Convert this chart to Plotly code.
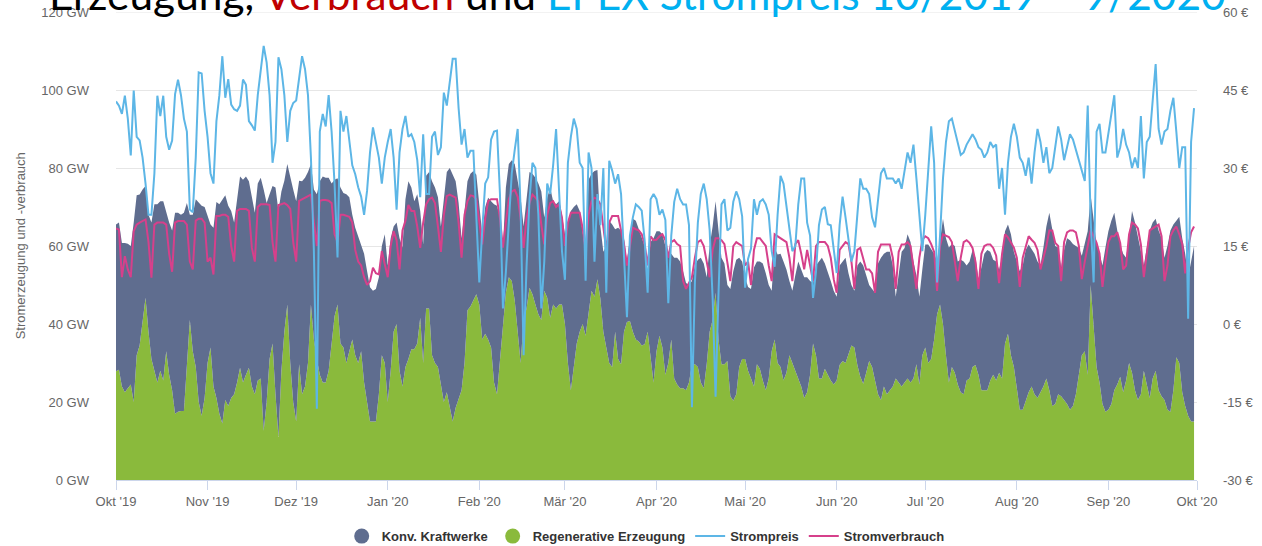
import pandas as pd
import plotly.graph_objects as go

# ---------------- data (daily values, 1 Oct 2019 - 30 Sep 2020) ----------------
start_date = "2019-10-01"

# Regenerative Erzeugung (GW)
regenerativ = [
    27.9, 28.3, 24, 22.5, 23.5, 24.5, 20, 32, 34.5, 40,
    46.7, 38, 31, 28, 25, 28, 25.5, 33, 27, 23,
    17, 17.5, 17.7, 17.7, 30, 41, 33, 29, 20, 16.5,
    21, 30, 34, 24, 21, 17, 14.5, 20.5, 19, 21,
    22, 25, 28.8, 25, 27, 28.8, 24, 22, 25.5, 26,
    12.6, 20, 31, 35, 22, 11, 28, 38, 45, 30,
    20, 15, 29.7, 22, 24, 30, 45, 36, 31, 27,
    25, 25, 28, 36, 42, 45, 35, 34, 30, 33,
    36, 32, 30, 33, 25, 20, 15, 15, 15, 22,
    32, 30, 20, 28, 38, 40, 28, 24, 29, 31,
    33.5, 33.5, 35, 41.6, 30, 44, 44, 32, 30, 29,
    25, 20, 22.5, 19, 15, 18.5, 20.5, 23, 30, 43.5,
    44.5, 46, 47.6, 45, 36, 37.5, 36, 34, 25, 22,
    30, 40, 48, 52, 51, 46, 38.5, 30, 40.8, 44,
    49.3, 47.6, 45, 42.5, 41, 48.5, 46.7, 41.6, 45, 44,
    45, 45, 40, 30, 23, 29, 35, 38, 40, 37,
    42.5, 48.5, 47, 51.5, 46.5, 38, 34, 30, 29, 38,
    31, 29.7, 38, 40.5, 40.8, 38, 36, 35.5, 34.5, 34.8,
    38, 31, 25, 33, 37, 34, 27, 30, 36, 26,
    24.5, 23.5, 23.5, 23, 25, 29.7, 29.7, 29, 25, 23.5,
    29.7, 38, 41, 48, 36, 29.7, 29.7, 30.5, 21.5, 20.3,
    22, 29, 31, 31, 28, 26, 24, 29.7, 28.5, 25.5,
    23, 26, 33, 36, 30, 29, 25.5, 27.5, 32, 30,
    28, 26, 24, 21, 22.5, 27, 35, 32, 26, 26,
    28.5, 27, 25.5, 24.5, 25.5, 29.5, 30.5, 30, 32, 34.5,
    34, 29.5, 26.5, 24.7, 27.5, 30.5, 29, 25.5, 22, 20.5,
    24, 22, 23, 24, 26, 25, 24, 25, 26, 25,
    26, 29.7, 24.5, 32, 34, 30, 31, 36, 42.5, 45,
    40, 32, 25, 29, 27.5, 24.5, 22.5, 22, 25.5, 26,
    29, 29.5, 27, 23, 23, 23, 25.5, 27, 25.5, 27.5,
    26, 35, 37.5, 32, 29, 23.5, 18, 18, 20.5, 22.5,
    24, 22, 21, 22.5, 24, 26, 23, 19, 19.5, 22,
    21.5, 20.5, 19.5, 18, 19, 22, 27, 32, 33, 27,
    50, 38, 29, 25, 19.5, 17.5, 18, 19.5, 23, 24.5,
    26.5, 22.5, 25.5, 30, 27.5, 23, 20.5, 22, 28, 24.5,
    21, 26, 28, 23, 21.5, 20.5, 18, 17.5, 23, 31.5,
    30, 22.5, 19, 16.5, 15, 15,
]

# Gesamterzeugung = Regenerative + Konv. Kraftwerke (GW), upper edge of the stack
erzeugung_gesamt = [
    65.5, 66, 60.8, 60.8, 60.6, 60, 66, 73, 73.2, 74.5,
    75.4, 68, 66, 70.7, 70.7, 71.5, 71.5, 68.5, 66, 64,
    68.5, 68.5, 68, 68.5, 71, 68, 68, 72, 71, 70.3,
    70, 67.5, 65.5, 64.7, 71.3, 70.7, 72, 73, 70.3, 69,
    66, 71.3, 77.8, 77, 77.8, 76.6, 72.5, 68.5, 76, 77.5,
    74.5, 71, 73.3, 75.4, 75, 69, 74, 76.7, 81, 77.5,
    74.5, 71.5, 76.7, 76.6, 77.5, 79, 81, 74.5, 73.3, 76.6,
    77.8, 77.5, 77.5, 76, 77, 77.4, 75, 73.6, 73.3, 72.5,
    68, 64.7, 62.4, 60.5, 58, 53.6, 49.4, 48.5, 49, 52,
    60, 63, 55, 62, 65, 66, 62, 59.6, 72, 76.6,
    75, 71.5, 73.3, 69, 60.4, 78, 79, 76.6, 75, 72.5,
    65, 72, 79, 80, 78.5, 76.6, 71, 62, 69, 76.6,
    78.5, 79.2, 78.3, 71, 63, 70, 72.4, 71.5, 70.7, 70.3,
    67.3, 59.6, 75, 81, 82, 81, 76.6, 72.4, 65, 72,
    79, 78.5, 77.5, 76, 74, 67.3, 72.4, 75, 71.5, 70.7,
    71.5, 68, 63, 66, 69, 70, 70.7, 69, 64, 58,
    77, 78.5, 79.2, 79.5, 65, 58.5, 60, 66.5, 65.5, 64.3,
    64.7, 64, 62, 56, 62, 67, 66.5, 64.5, 62, 60,
    53.6, 61, 62, 63.8, 63.8, 63, 60, 58, 58, 57,
    57, 56, 53.5, 50.5, 50, 51, 55, 56.5, 57, 55.5,
    52, 60, 65, 71.5, 64, 57, 55.5, 50, 49, 53.5,
    56.5, 57, 56, 52, 49.5, 49, 54.5, 56, 56, 55.5,
    53, 50, 48.5, 59.6, 57.8, 58, 56, 54, 51, 48.5,
    52.5, 56, 54, 52, 52, 51, 50.5, 55, 56, 57,
    55.5, 53.5, 51, 48.5, 47, 55, 56, 57, 53, 50,
    48.5, 55, 56, 55, 52.5, 50, 49, 48, 55.5, 57,
    58, 58.5, 58.5, 55, 47, 53.5, 58.5, 59.5, 63, 61,
    56, 52.5, 47, 54, 60.4, 60.4, 59, 58, 56, 61,
    67, 62, 59.6, 60.5, 60, 56, 56.5, 56, 55, 56,
    59, 57, 51.5, 54.5, 58, 59, 58.5, 56.5, 56, 54,
    57, 63.8, 65.5, 63, 58.5, 56, 53.5, 55, 59, 60.4,
    59, 58, 56, 55, 59.6, 65, 68.5, 63.8, 60, 59.6,
    54.5, 59, 62, 61.5, 60.5, 60, 59.5, 57.5, 60.4, 63.8,
    73, 67, 60.4, 58, 55, 59.6, 63.8, 66.5, 68.5, 64,
    60.4, 58, 57, 62.5, 69, 66, 62, 59, 55, 59.6,
    64, 66, 67, 64, 62, 57, 60, 64, 65.5, 66.5,
    67.5, 62, 58, 52, 56, 60,
]

# Stromverbrauch (GW)
verbrauch = [
    64.5, 64.2, 52, 57.4, 54, 52, 63.8, 65.5, 66, 66.4,
    66.8, 61, 51.9, 65.5, 66, 66, 66, 65.5, 58, 53.4,
    66, 66.4, 66.4, 66.4, 65.5, 56, 54, 66.5, 67, 67,
    66, 56, 57, 52.7, 67.7, 67.7, 68, 68, 67.5, 60,
    56, 69, 69.5, 69.5, 69.5, 69, 59.5, 56, 70, 70.7,
    70.7, 70.7, 70.5, 61, 56, 70.5, 70.7, 71, 70.5, 69.5,
    61, 56, 71.6, 72, 72.5, 73, 73.2, 66, 60, 71.6,
    71.8, 71.8, 71.6, 71, 63, 61, 68, 68, 67.7, 67.5,
    66, 59, 56, 55, 52, 50, 51, 54.4, 53, 52.7,
    58.7, 55, 52, 60, 63.8, 61.5, 54, 64, 66.5, 70.5,
    69, 69, 65, 59.5, 66, 70.7, 72, 72.4, 71, 65,
    58.5, 68, 72.8, 73.2, 72.8, 72.4, 66, 57, 68, 71.5,
    73, 72.8, 72, 66, 60.4, 67, 71.5, 72, 72, 72,
    67, 59.6, 66, 72, 74, 74.4, 72.6, 67, 59.5, 67,
    71, 73.2, 72.4, 71.5, 65.5, 60.4, 68, 71, 71.5, 70,
    70.7, 67.2, 60, 66, 68.5, 68.5, 68.5, 68.5, 64.5, 59,
    68, 71.5, 72.4, 72, 70.7, 65, 59, 66, 67.7, 67.7,
    67.7, 64, 60.5, 55, 60, 64.7, 64.3, 64, 63, 60.4,
    55, 62.5, 61.5, 61.6, 62.5, 63, 61.5, 57, 61, 61.5,
    60.5, 60, 51, 49, 50.5, 52, 57, 61, 61.5, 60,
    56, 52, 59, 62, 62, 61.5, 60.5, 56, 51, 60,
    61, 60.5, 60, 55, 56, 50, 59, 62, 62, 61,
    60, 55, 51, 63, 62.5, 62, 61.6, 61, 57, 51,
    60.5, 61.5, 58, 54, 59, 55, 51, 60, 61, 61,
    61, 60, 57, 51.5, 48, 59, 60, 61, 60.5, 56,
    49, 59, 59.5, 57, 54, 54, 53, 48, 58.5, 60.4,
    60.4, 60.4, 60.4, 57, 49, 58.5, 60.4, 60.4, 61, 60,
    55, 49, 57, 61.5, 62.5, 62, 60.5, 58.5, 48.5, 60,
    63, 62.6, 62.3, 61, 56.5, 51, 57, 61, 61.5, 60.8,
    59.5, 56, 49, 58, 60, 60.4, 60.4, 59.5, 57.5, 50.5,
    58, 63, 62.2, 60.8, 59.6, 57, 49.5, 57, 60, 62.5,
    61.6, 60.8, 59, 54, 57, 60, 64, 64, 60.8, 60,
    51, 61, 63.5, 64, 64, 63.5, 60, 51.5, 56, 60.5,
    64, 62.5, 60.8, 58, 49.5, 56, 61, 62.5, 62.5, 63.5,
    60.8, 54, 55, 63, 66, 65.5, 64.5, 60.4, 52, 58,
    64, 64.5, 65, 65.5, 62.5, 51, 55, 62.5, 64, 65,
    63, 60.5, 53, 59.5, 63.5, 65,
]

# EPEX Strompreis (EUR/MWh, right axis)
strompreis = [
    42.8, 42, 40.4, 43.9, 39.5, 32.4, 44.9, 36, 35.3, 32,
    27, 21, 21, 29, 43.9, 40, 43.9, 36, 33.5, 35.3,
    44.2, 47, 44, 39.5, 37, 22, 21.5, 32, 48.4, 48.2,
    41, 36, 29, 27, 39, 44, 51.5, 43.5, 47.1, 42.2,
    41.3, 41, 42, 47, 46, 39, 38.2, 37.2, 44, 49.4,
    53.5, 50.3, 44, 31, 35, 51.3, 49, 44, 35, 41,
    42.5, 43, 47, 51.5, 49, 44, 32, 14, -16.3, 37,
    40.4, 38, 44, 37, 27, 12.8, 41, 37, 40, 35,
    30.5, 28.8, 26.3, 24.5, 21, 25.6, 33, 37.8, 35, 32,
    27, 32, 35, 37.5, 32, 22, 33, 37.5, 40, 36,
    36.5, 35, 31.5, 24.4, 36.5, 25, 25, 36, 37, 32.5,
    34, 44.5, 42, 46.5, 51, 51, 41.5, 34.5, 37.5, 32,
    33.3, 33.3, 22, 8, 18, 27, 28.2, 35.5, 37, 37.2,
    25, 3, 10, 19, 29, 33.5, 37.5, 22, -6, 11,
    24, 31, 30, 21, 3, 12, 27, 25, 30.5, 37.5,
    27, 14, 8.5, 31, 36, 39.5, 37.5, 31, 30, 8.3,
    33, 30, 12, 25, 19, 30, 6, 31.4, 29.5, 27,
    28.8, 25, 13, 1.3, 17, 20.5, 23, 22.5, 21.8, 16,
    6, 24, 25, 24, 21, 22, 20, 4, 17, 23.5,
    26, 24, 23, 23, 19, -16, 8, 19.5, 25, 27,
    24, 18, 5, -14, 6, 23, 24, 18, 18.5, 23.5,
    25.5, 24, 20.7, 7, 12.5, 14.5, 24, 21, 23.5, 24,
    23, 21, 14, 11, 21, 28.5, 27, 22.5, 18.5, 14,
    15, 23, 28, 28, 19.5, 17, 5, 10, 19, 22,
    22.5, 19.2, 19, 14.5, 9.8, 19, 24.5, 20.5, 16.5, 12,
    14, 22, 28, 26, 26, 25, 20.5, 18.6, 24.5, 29,
    30, 28, 28, 28, 27, 28, 26, 30, 33, 31,
    34.5, 28, 21.5, 14, 21, 30, 38, 31, 8, 17,
    28, 35, 39, 39.5, 37, 34.6, 32.5, 33, 34.5, 35.5,
    36.5, 35.5, 34, 33.5, 32, 33, 35, 34, 34.5, 26,
    30, 21, 31, 36, 38.5, 36, 32, 31, 28.5, 32,
    27, 33, 37.5, 35, 31, 34, 29, 30, 34, 38,
    35.5, 31.5, 34, 36.5, 35.5, 33.5, 32, 29.5, 27.5, 42,
    20, 8, 37, 38.5, 33, 33, 36.5, 40, 44, 32,
    34, 37.5, 34.5, 33, 30, 32, 30, 40, 28, 35,
    36, 43, 50, 37.5, 34.5, 37, 37.5, 41, 43.5, 37,
    30, 34, 34, 1, 35, 41.5,
]

month_ticks = ["2019-10-01", "2019-11-01", "2019-12-01", "2020-01-01", "2020-02-01",
               "2020-03-01", "2020-04-01", "2020-05-01", "2020-06-01", "2020-07-01",
               "2020-08-01", "2020-09-01", "2020-10-01"]
month_labels = ["Okt '19", "Nov '19", "Dez '19", "Jan '20", "Feb '20", "Mär '20",
                "Apr '20", "Mai '20", "Jun '20", "Jul '20", "Aug '20", "Sep '20", "Okt '20"]
gw_ticks = [0, 20, 40, 60, 80, 100, 120]
eur_ticks = [-30, -15, 0, 15, 30, 45, 60]

# ---------------- styling ----------------
C_KONV = "#5f6d8f"
C_REGEN = "#8aba3c"
C_PREIS = "#5db6e6"
C_VERBR = "#d6408b"
C_GRID = "#e6e6e6"
FONT = "Liberation Sans, Arial, sans-serif"


def days(values):
    return pd.date_range(start_date, periods=len(values), freq="D")


fig = go.Figure()

# stacked areas: renewables at the bottom, conventional up to the total
fig.add_trace(go.Scatter(x=days(regenerativ), y=regenerativ, mode="lines",
                         line=dict(width=0, color=C_REGEN), fill="tozeroy",
                         fillcolor=C_REGEN, showlegend=False, hoverinfo="skip"))
fig.add_trace(go.Scatter(x=days(erzeugung_gesamt), y=erzeugung_gesamt, mode="lines",
                         line=dict(width=0, color=C_KONV), fill="tonexty",
                         fillcolor=C_KONV, showlegend=False, hoverinfo="skip"))

# legend entries for the areas (circle symbols)
fig.add_trace(go.Scatter(x=[None], y=[None], mode="markers", name="Konv. Kraftwerke",
                         marker=dict(size=15, color=C_KONV)))
fig.add_trace(go.Scatter(x=[None], y=[None], mode="markers", name="Regenerative Erzeugung",
                         marker=dict(size=15, color=C_REGEN)))

fig.add_trace(go.Scatter(x=days(strompreis), y=strompreis, mode="lines", name="Strompreis",
                         line=dict(color=C_PREIS, width=2), yaxis="y2"))
fig.add_trace(go.Scatter(x=days(verbrauch), y=verbrauch, mode="lines", name="Stromverbrauch",
                         line=dict(color=C_VERBR, width=2)))

title_html = ("Erzeugung, <span style='color:#C00000'>Verbrauch</span> und "
              "<span style='color:#00B0F0'>EPEX Strompreis 10/2019 – 9/2020</span>")

fig.update_layout(
    width=1262, height=546,
    margin=dict(l=115.5, r=65, t=12, b=66, autoexpand=False),
    paper_bgcolor="white", plot_bgcolor="white",
    font=dict(family=FONT, size=13, color="#666666"),
    xaxis=dict(type="date", range=[month_ticks[0], month_ticks[-1]],
               tickvals=month_ticks, ticktext=month_labels, automargin=False,
               showgrid=False, showline=True, linecolor="#ccd6eb", linewidth=1,
               ticks="outside", ticklen=9, tickcolor="#ccd6eb",
               tickfont=dict(size=13, color="#666666"), zeroline=False),
    yaxis=dict(range=[0, 120], tickvals=gw_ticks, ticktext=[f"{v} GW" for v in gw_ticks],
               showgrid=True, gridcolor=C_GRID, zeroline=False, showline=False,
               automargin=False, ticklabeloverflow="allow",
               tickfont=dict(size=13, color="#666666"), ticklabelstandoff=26),
    yaxis2=dict(range=[-30, 60], tickvals=eur_ticks, ticktext=[f"{v} €" for v in eur_ticks],
                overlaying="y", side="right", showgrid=False, zeroline=False,
                automargin=False, ticklabeloverflow="allow",
                tickfont=dict(size=13, color="#666666"), ticklabelstandoff=25),
    legend=dict(orientation="h", x=0.49, xanchor="center", y=-0.12, yanchor="middle",
                traceorder="normal",
                font=dict(family=FONT, size=13, color="#333333", weight="bold"),
                bgcolor="rgba(0,0,0,0)"),
    showlegend=True,
    shapes=[
        # top grid line at 120 GW (plotly skips the grid line on the plot edge)
        dict(type="line", xref="paper", x0=0, x1=1, yref="y", y0=gw_ticks[-1], y1=gw_ticks[-1],
             line=dict(color=C_GRID, width=1), layer="below"),
    ],
    annotations=[
        dict(text="Stromerzeugung und -verbrauch", textangle=-90, xref="paper", yref="paper",
             x=-0.0885, y=0.5, xanchor="center", yanchor="middle", showarrow=False,
             font=dict(family=FONT, size=13, color="#666666")),
        dict(text=title_html, xref="paper", yref="paper", x=-0.0635, y=0.9815,
             xanchor="left", yanchor="bottom", showarrow=False,
             font=dict(family="Lato, Open Sans, sans-serif", size=42.4, color="#000000")),
    ],
)

# remove the default 8 px page margin so the figure sits at the window origin
fig.write_html("out.html", config={"displayModeBar": False},
               post_script="document.body.style.margin='0px';")
